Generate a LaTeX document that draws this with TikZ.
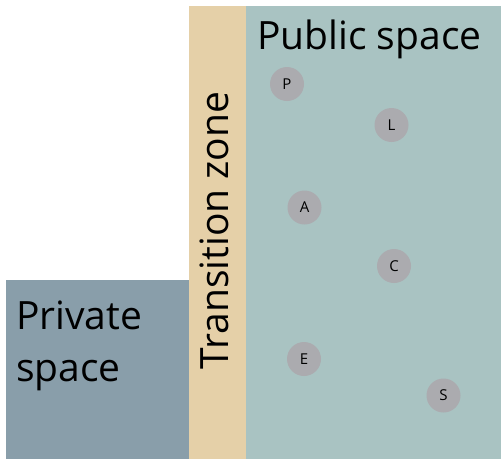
\documentclass[tikz,border=0pt]{standalone}
\usepackage{fontspec}
\setmainfont{Open Sans}
\usepackage{tikz}
\usepackage{xcolor}
\usetikzlibrary{positioning}

\definecolor{publicgreen}{HTML}{A9C3C2}
\definecolor{transsand}{HTML}{E5D0A8}
\definecolor{privateblue}{HTML}{899EAA}
\definecolor{persongrey}{HTML}{ABABAF}

\begin{document}
\begin{tikzpicture}[x=1pt,y=-1pt,
      zone/.style={draw=none},
      bigline/.style={font={\fontsize{39}{47}\selectfont}, inner sep=0pt},
      person/.style={circle, fill=persongrey, minimum size=34pt, inner sep=0pt, font={\fontsize{15}{17}\selectfont}}]

    %fix the page size
    \useasboundingbox (0,0) rectangle (501,459);

    %draw the three zones
    \fill[zone, privateblue] (6,280) rectangle (189,459);
    \fill[zone, transsand] (189,6) rectangle (246,459);
    \fill[zone, publicgreen] (246,6) rectangle (501,459);

    %zone labels
    \node[bigline, anchor=base west] (public) at (257,49) {Public space};
    \node[bigline, anchor=base, rotate=90] (transition) at (228,230.5) {Transition zone};
    \node[bigline, anchor=base west] (private) at (16,329.5) {Private};
    \node[bigline, anchor=base west] (privatetwo) at (16,381.5) {space};

    %draw the people
    \node[person] (p) at (287,84) {P};
    \node[person] (l) at (391.5,125) {L};
    \node[person] (a) at (304.5,207.5) {A};
    \node[person] (c) at (394,266) {C};
    \node[person] (e) at (304,359) {E};
    \node[person] (s) at (443.5,395.5) {S};

  \end{tikzpicture}
\end{document}
